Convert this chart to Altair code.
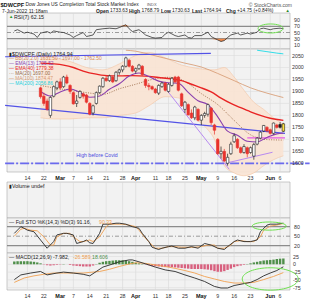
import altair as alt
import pandas as pd

W, H = 283, 300
PADL = 7
FONT = "Liberation Sans"
XDOM = [-4.7, 78.5]

# ---------------- data (x = trading-day index, 0 = 14 Feb 2022) ----------------
tick_idx = [0, 5, 10, 14, 19, 24, 29, 33, 39, 43, 48, 53, 58, 63, 68, 74, 77]
tick_lab = ["14", "22", "Mar", "7", "14", "21", "28", "Apr", "11", "18", "25", "May", "9", "16", "23", "Jun", "6"]
months = ["Mar", "Apr", "May", "Jun"]

candle_idx = list(range(4, 79))
c_open = [1915, 1880, 1860, 1800, 1880, 1915, 1940, 1920, 1960, 1925,
          1895, 1850, 1875, 1890, 1885, 1850, 1810, 1850, 1895, 1920,
          1955, 1945, 1960, 1945, 1980, 1990, 2005, 2030, 2005, 1985,
          1995, 2005, 1950, 1925, 1920, 1910, 1893, 1920, 1935, 1900,
          1925, 1960, 1960, 1890, 1825, 1845, 1810, 1790, 1825, 1780,
          1800, 1805, 1830, 1760, 1700, 1640, 1650, 1600, 1640, 1690,
          1700, 1665, 1645, 1665, 1645, 1630, 1680, 1705, 1735, 1750,
          1740, 1725, 1760, 1762, 1733.63]
c_high = [1920, 1895, 1870, 1880, 1925, 1945, 1955, 1965, 1970, 1930,
          1900, 1885, 1905, 1895, 1890, 1855, 1845, 1900, 1925, 1960,
          1965, 1970, 1965, 1985, 1995, 2010, 2045, 2035, 2010, 2000,
          2015, 2010, 1955, 1935, 1925, 1915, 1930, 1940, 1940, 1935,
          1960, 1965, 1965, 1895, 1860, 1850, 1825, 1840, 1830, 1805,
          1815, 1850, 1835, 1765, 1705, 1670, 1660, 1640, 1690, 1725,
          1705, 1670, 1680, 1670, 1670, 1685, 1710, 1735, 1760, 1755,
          1745, 1770, 1765, 1772, 1768.79]
c_low = [1870, 1840, 1820, 1790, 1875, 1905, 1905, 1915, 1930, 1890,
         1845, 1835, 1870, 1870, 1850, 1800, 1800, 1845, 1890, 1915,
         1940, 1940, 1935, 1940, 1970, 1980, 2000, 2000, 1980, 1975,
         1990, 1965, 1915, 1905, 1905, 1890, 1885, 1915, 1900, 1895,
         1920, 1935, 1900, 1835, 1810, 1800, 1785, 1780, 1775, 1760,
         1790, 1795, 1760, 1720, 1635, 1620, 1605, 1590, 1635, 1685,
         1660, 1640, 1640, 1625, 1640, 1615, 1675, 1700, 1730, 1730,
         1720, 1720, 1745, 1745, 1730.63]
c_close = [1878, 1850, 1825, 1875, 1920, 1940, 1915, 1960, 1935, 1900,
           1848, 1860, 1900, 1880, 1855, 1805, 1840, 1895, 1922, 1955,
           1945, 1965, 1940, 1980, 1990, 2005, 2040, 2005, 1985, 1995,
           2010, 1970, 1925, 1920, 1910, 1895, 1925, 1935, 1905, 1930,
           1955, 1940, 1905, 1840, 1855, 1802, 1790, 1835, 1780, 1800,
           1808, 1845, 1770, 1738, 1640, 1650, 1610, 1625, 1680, 1715,
           1665, 1645, 1670, 1640, 1665, 1678, 1705, 1730, 1758, 1735,
           1725, 1768, 1750, 1750.19, 1764.94]

ema13_idx = [4, 7, 10, 13, 16, 19, 22, 25, 28, 31, 34, 37, 40, 43, 46, 49, 52, 55, 58, 61, 64, 67, 70, 73, 76, 78]
ema13_val = [1900, 1881, 1898, 1910, 1896, 1876, 1881, 1909, 1932, 1964, 1977, 1962, 1943, 1936, 1934, 1896,
             1861, 1845, 1794, 1734, 1717, 1692, 1689, 1708, 1723, 1725.5]
ema40_idx = [4, 8, 11, 14, 17, 21, 25, 29, 32, 36, 40, 44, 47, 50, 53, 56, 59, 62, 65, 68, 71, 74, 78]
ema40_val = [2018, 2015, 2010, 2000, 1985, 1972, 1965, 1965, 1966, 1964, 1958, 1952, 1945, 1930, 1915, 1898,
             1872, 1850, 1832, 1815, 1800, 1788, 1779.4]
ma20_idx = [4, 8, 13, 18, 23, 28, 33, 38, 43, 48, 53, 58, 63, 68, 73, 78]
ma20_val = [1925, 1915, 1905, 1895, 1888, 1911, 1930, 1950, 1959, 1942, 1891, 1845, 1779, 1719, 1699, 1697]
ma100_idx = [30, 33, 38, 43, 48, 53, 58, 63, 68, 73, 78]
ma100_val = [2072, 2068, 2052, 2035, 2018, 2002, 1975, 1945, 1915, 1893, 1874.5]
ma200_idx = [70, 73, 76, 78]
ma200_val = [2072, 2066, 2060, 2056.9]
bb_idx = [4, 8, 13, 18, 23, 28, 33, 37, 42, 47, 51, 54, 57, 60, 63, 66, 69, 72, 75, 78]
bb_up = [2050, 2040, 2025, 2000, 1990, 2015, 2050, 2063, 2040, 2010, 1998, 1992, 1990, 2000, 1960, 1905,
         1855, 1825, 1790, 1762.5]
bb_lo = [1790, 1785, 1785, 1790, 1790, 1800, 1810, 1840, 1878, 1870, 1790, 1755, 1700, 1590, 1560, 1548,
         1560, 1590, 1615, 1631.5]

# drawn trend lines (start / end)
blue_top = ([-6.8, 55.9], [2045, 2059])
blue_bot = ([-6.8, 78.5], [1842, 1725])
covid_high = ([-6.8, 86.0], [1600, 1600])
lav_down = ([41.8, 61.5], [1917, 1575])
lav_up = ([60.3, 74.7], [1600, 1646])
pink_flat = ([67.0, 78.5], [1706, 1706])
price_ticks = [1600, 1650, 1700, 1750, 1800, 1850, 1900, 1950, 2000, 2050]

rsi_idx = [-4, -3, -1, 0, 2, 3, 4, 6, 7, 8, 10, 11, 13, 14, 15, 17, 18, 20, 21, 23, 25, 27, 28, 30, 31, 32,
           34, 35, 36, 38, 39, 41, 42, 43, 45, 46, 48, 49, 50, 51, 53, 55, 56, 58, 59, 60, 61, 62, 64, 65,
           67, 68, 70, 71, 72, 74, 75, 77, 78]
rsi_val = [55, 59, 48, 51, 45, 34, 48, 53, 48, 55, 51, 50, 42, 34, 40, 50, 37, 42, 59, 62, 64, 62, 66, 75, 62,
           53, 59, 51, 42, 34, 32, 34, 45, 51, 40, 37, 42, 34, 32, 40, 40, 51, 37, 26, 21, 24, 34, 42, 48, 42,
           48, 45, 51, 62, 64, 59, 62, 64, 62.15]
rsi_ticks = [90, 70, 50, 30, 10]

k_idx = [-4, -2, -1, 0, 2, 4, 6, 8, 9, 11, 12, 14, 15, 17, 18, 19, 20, 22, 23, 25, 27, 28, 30, 32, 34, 35,
         37, 38, 40, 41, 43, 44, 46, 48, 50, 52, 54, 56, 58, 60, 61, 63, 64, 66, 68, 70, 71, 73, 74, 76, 78]
k_val = [59, 80, 75, 69, 64, 38, 12, 33, 54, 59, 59, 54, 27, 33, 38, 29, 27, 59, 88, 88, 91, 91, 88, 80, 75, 59,
         33, 15, 8, 12, 17, 19, 12, 12, 17, 12, 27, 22, 12, 8, 17, 33, 38, 33, 33, 38, 64, 85, 88, 88, 91.16]
d_idx = [-4, -2, -1, 1, 3, 5, 7, 8, 9, 11, 13, 14, 16, 17, 19, 20, 22, 24, 25, 27, 29, 31, 33, 34, 36, 38,
         39, 41, 43, 45, 47, 49, 51, 53, 55, 57, 58, 60, 62, 63, 65, 67, 69, 71, 72, 74, 76, 78]
d_val = [50, 72, 75, 69, 67, 48, 22, 22, 48, 59, 59, 48, 33, 33, 38, 33, 48, 80, 88, 88, 88, 85, 80, 69, 43, 22,
         12, 12, 17, 17, 15, 15, 15, 17, 22, 22, 12, 12, 22, 33, 36, 33, 33, 48, 69, 82, 85, 90.33]
sto_ticks = [80, 50, 20]

macd_idx = [-4, -2, 1, 4, 6, 9, 11, 14, 17, 19, 21, 23, 26, 28, 31, 32, 34, 37, 39, 42, 45, 48, 51, 54, 57,
            59, 61, 63, 66, 68, 70, 72, 74, 76, 78]
macd_val = [-49, -34, -28, -23, -34, -28, -25, -28, -32, -37, -23, -9, 1, 8, 14, 14, 8, -2, -9, -18, -23, -34,
            -44, -55, -71, -76, -76, -68, -62, -58, -49, -37, -28, -20, -7.98]
sig_idx = [-4, -1, 2, 5, 8, 11, 14, 17, 19, 22, 25, 28, 31, 33, 36, 39, 42, 45, 48, 51, 54, 57, 60, 63, 66,
           69, 72, 75, 78]
sig_val = [-58, -44, -37, -32, -28, -28, -28, -28, -26, -23, -16, -7, 1, 5, 3, -2, -7, -13, -20, -28, -39, -47,
           -55, -60, -60, -58, -49, -39, -26.6]
hist_idx = list(range(-4, 79))
hist_val = [9, 10, 10, 10, 10, 9, 8, 6, 3, -1, -3, -4, -3, -2, -1, 1, 0, -2, -4, -5, -6, -7, -7, -7, -4, 1,
            5, 8, 10, 11, 12, 13, 13, 13, 12, 10, 8, 5, 3, 1, -1, -3, -5, -6, -7, -8, -9, -9, -9, -10, -11,
            -12, -13, -14, -15, -15, -15, -15, -16, -17, -19, -22, -24, -24, -22, -18, -14, -9, -6, -4, -2,
            1, 3, 6, 8, 10, 12, 13, 14, 15, 17, 18, 18.6]
macd_ticks = [25, 0, -25, -50, -75]
macd_tick_lab = ["25", "0", "-25", "-50", "-75"]

ellipse_rsi = (74.1, 63)
ellipse_sto = (73.7, 82)
ellipse_macd = (74.0, -47)

# ---------------- helpers ----------------
def xq(field="idx"):
    return alt.X(f"{field}:Q", scale=alt.Scale(domain=XDOM, nice=False, zero=False), axis=None)


def ys(field, dom, rng):
    return alt.Y(f"{field}:Q", scale=alt.Scale(domain=dom, range=rng, nice=False, zero=False), axis=None)


PX = ([1600, 2050], [163.3, 55.5])
RS = ([30, 70], [38.7, 26.3])
ST = ([20, 80], [245.7, 226.7])
MC = ([-75, 25], [287.7, 256.5])


def ln(idx, val):
    return pd.DataFrame({"idx": idx, "v": val})


def line(idx, val, sc, color, width=1.0, dash=None, interp="linear"):
    kw = dict(color=color, strokeWidth=width, interpolate=interp, clip=False)
    if dash:
        kw["strokeDash"] = dash
    return alt.Chart(ln(idx, val)).mark_line(**kw).encode(x=xq(), y=ys("v", *sc))


def label(s, x, y, size=5.3, color="#222222", weight="normal", align="left"):
    return alt.Chart(pd.DataFrame({"t": [s]})).mark_text(
        align=align, baseline="middle", fontSize=size, color=color, fontWeight=weight, font=FONT
    ).encode(text="t:N", x=alt.value(x - PADL), y=alt.value(y))


def panel(y0, y1):
    return alt.Chart(pd.DataFrame({"a": [0]})).mark_rect(
        fill="#f2f2f2", stroke="#aaaaaa", strokeWidth=0.6
    ).encode(x=alt.value(0), x2=alt.value(W), y=alt.value(y0), y2=alt.value(y1))


def vgrid(y0, y1):
    return alt.Chart(pd.DataFrame({"idx": tick_idx})).mark_rule(color="#d9d9d9", strokeWidth=0.6).encode(
        x=xq(), y=alt.value(y0), y2=alt.value(y1))


def hlevels(vals, sc, color, width, dash=None):
    kw = dict(color=color, strokeWidth=width)
    if dash:
        kw["strokeDash"] = dash
    return alt.Chart(pd.DataFrame({"v": vals})).mark_rule(**kw).encode(
        y=ys("v", *sc), x=alt.value(0), x2=alt.value(W))


def ticklabels(vals, labs, sc, x=293):
    return alt.Chart(pd.DataFrame({"v": vals, "t": labs})).mark_text(
        align="left", baseline="middle", fontSize=5.3, color="#333333", font=FONT
    ).encode(x=alt.value(x - PADL), y=ys("v", *sc), text="t:N")


def ellipse(pt, sc, width, ratio):
    path = f"M -1 0 A 1 {ratio} 0 1 1 1 0 A 1 {ratio} 0 1 1 -1 0 Z"
    return alt.Chart(pd.DataFrame({"idx": [pt[0]], "v": [pt[1]]})).mark_point(
        shape=path, size=width * width, filled=False, stroke="#6fe050", strokeWidth=1.0, opacity=1, clip=False
    ).encode(x=xq(), y=ys("v", *sc))


def xlabels(y):
    df = pd.DataFrame({"idx": tick_idx, "t": tick_lab})
    base = alt.Chart(df)
    normal = base.transform_filter(alt.FieldOneOfPredicate(field="t", oneOf=months)).mark_text(
        fontSize=5.5, fontWeight="bold", color="#111111", font=FONT, baseline="middle")
    other = base.transform_filter(~alt.FieldOneOfPredicate(field="t", oneOf=months)).mark_text(
        fontSize=5.3, color="#333333", font=FONT, baseline="middle")
    return alt.layer(
        normal.encode(x=xq(), y=alt.value(y), text="t:N"),
        other.encode(x=xq(), y=alt.value(y), text="t:N"),
    )


# ---------------- background ----------------
bg = alt.layer(
    panel(13, 49), panel(49, 172), panel(182, 218), panel(218, 253), panel(253, 290),
    vgrid(13, 49), vgrid(49, 172), vgrid(182, 218), vgrid(218, 253), vgrid(253, 290),
)

# ---------------- RSI panel ----------------
rsi_df = ln(rsi_idx, rsi_val)
rsi_low = alt.Chart(rsi_df).transform_calculate(lo="min(datum.v, 30)").mark_area(color="#f08a4b").encode(
    x=xq(), y=ys("lo", *RS), y2=alt.datum(30))
rsi_high = alt.Chart(rsi_df).transform_calculate(hi="max(datum.v, 70)").mark_area(color="#f08a4b").encode(
    x=xq(), y=ys("hi", *RS), y2=alt.datum(70))
rsi_panel = alt.layer(
    hlevels([70, 30], RS, "#8c8c8c", 1.3),
    hlevels([50], RS, "#777777", 0.7, [4, 2, 1, 2]),
    rsi_low, rsi_high,
    line(rsi_idx, rsi_val, RS, "#333333", 0.8),
    ticklabels(rsi_ticks, [str(t) for t in rsi_ticks], RS, 294),
    ellipse(ellipse_rsi, RS, 25, 0.36),
)

# ---------------- price panel ----------------
cdf = pd.DataFrame({"idx": candle_idx, "open": c_open, "high": c_high, "low": c_low, "close": c_close})
cbase = alt.Chart(cdf).transform_window(
    prev="lag(close)", sort=[alt.SortField("idx", order="ascending")]
).transform_calculate(
    col="(datum.prev != null ? datum.close < datum.prev : datum.close < datum.open) ? '#e8332e' : '#1f1f1f'"
).transform_calculate(
    body="datum.idx == 78 ? '#ffe23f' : (datum.close < datum.open ? datum.col : '#ffffff')"
)
wicks = cbase.mark_rule(strokeWidth=0.7).encode(
    x=xq(), y=ys("low", *PX), y2="high:Q", color=alt.Color("col:N", scale=None))
bodies = cbase.mark_bar(size=2.5, strokeWidth=0.6).encode(
    x=xq(), y=ys("open", *PX), y2="close:Q",
    fill=alt.Fill("body:N", scale=None), stroke=alt.Stroke("col:N", scale=None))

bbdf = pd.DataFrame({"idx": bb_idx, "up": bb_up, "lo": bb_lo})
bb_area = alt.Chart(bbdf).mark_area(color="#f9e3d3", opacity=0.9, interpolate="monotone").encode(
    x=xq(), y=ys("up", *PX), y2="lo:Q")
bb_upper = line(bb_idx, bb_up, PX, "#f3c4a2", 0.6, interp="monotone")
bb_lower = line(bb_idx, bb_lo, PX, "#f3c4a2", 0.6, interp="monotone")

price_panel = alt.layer(
    hlevels(price_ticks, PX, "#dcdcdc", 0.6),
    bb_area, bb_upper, bb_lower,
    line(*covid_high, PX, "#6a6aee", 1.8, [9, 2, 2, 2]),
    line(ma100_idx, ma100_val, PX, "#d9a07a", 0.9, interp="monotone"),
    line(ma200_idx, ma200_val, PX, "#33dde8", 1.0, interp="monotone"),
    line(ma20_idx, ma20_val, PX, "#9a6a48", 0.9, [1, 1.4], interp="monotone"),
    line(*blue_top, PX, "#5252e6", 1.1),
    line(*blue_bot, PX, "#5252e6", 1.1),
    line(*lav_down, PX, "#b88af0", 1.0),
    line(*lav_up, PX, "#b88af0", 1.0),
    line(*pink_flat, PX, "#e65ae6", 1.2),
    line(ema40_idx, ema40_val, PX, "#e82424", 1.4, interp="monotone"),
    line(ema13_idx, ema13_val, PX, "#8a3fae", 1.1, interp="monotone"),
    wicks, bodies,
    ticklabels(price_ticks, [str(t) for t in price_ticks], PX, 292),
)

# ---------------- STO panel ----------------
sto_panel = alt.layer(
    hlevels([80, 20], ST, "#8c8c8c", 1.3),
    hlevels([50], ST, "#777777", 0.7, [4, 2, 1, 2]),
    line(d_idx, d_val, ST, "#f0a050", 0.9),
    line(k_idx, k_val, ST, "#2a2a2a", 0.9),
    ticklabels(sto_ticks, [str(t) for t in sto_ticks], ST, 294),
    ellipse(ellipse_sto, ST, 34, 0.24),
)

# ---------------- MACD panel ----------------
hist = alt.Chart(ln(hist_idx, hist_val)).transform_calculate(
    col="datum.v >= 0 ? '#4f8f4a' : '#d8607e'"
).mark_bar(size=2.4).encode(x=xq(), y=ys("v", *MC), y2=alt.datum(0), color=alt.Color("col:N", scale=None))
macd_panel = alt.layer(
    hlevels(macd_ticks, MC, "#dcdcdc", 0.6),
    hist,
    line(sig_idx, sig_val, MC, "#f0a050", 0.9),
    line(macd_idx, macd_val, MC, "#2a2a2a", 0.9),
    ticklabels(macd_ticks, macd_tick_lab, MC, 293),
    ellipse(ellipse_macd, MC, 56, 0.4),
)

# ---------------- texts ----------------
texts = alt.layer(
    label("$DWCPF", 0.5, 4.8, 5.6, "#111111", "bold"),
    label("Dow Jones US Completion Total Stock Market Index", 25.5, 4.8, 4.9, "#222222"),
    label("INDX", 147, 4.8, 4.0, "#555555"),
    label("© StockCharts.com", 292, 4.8, 5.0, "#555555", align="right"),
    label("7-Jun-2022 11:18am", 2, 10.8, 5.0),
    label("Open", 96, 10.8, 5.0, weight="bold"), label("1733.63", 110, 10.8, 4.9),
    label("High", 129, 10.8, 5.0, weight="bold"), label("1768.79", 141.5, 10.8, 4.9),
    label("Low", 161, 10.8, 5.0, weight="bold"), label("1730.63", 172, 10.8, 4.9),
    label("Last", 192, 10.8, 5.0, weight="bold"), label("1764.94", 203.5, 10.8, 4.9),
    label("Chg", 226, 10.8, 5.0, weight="bold"), label("+14.75 (+0.84%)", 237, 10.8, 4.9),
    label("▲", 285.5, 10.8, 4.3, "#2a8a2a"),
    label("▲", 9, 16.5, 4.3, "#2a9a2a"), label("RSI(7) 62.15", 14, 16.5, 5.3),
    label("▮$DWCPF (Daily) 1764.94", 9, 53.8, 5.4, "#222222"),
    label("— BB(20,2.0) 1631.50 - 1697.00 - 1762.50", 9, 58.9, 4.9, "#d9864f"),
    label("— EMA(13) 1725.52", 9, 64.0, 4.9, "#8a3fae"),
    label("— EMA(40) 1779.38", 9, 69.1, 4.9, "#e82424"),
    label("··· MA(20) 1697.00", 9, 74.2, 4.9, "#9a6a48"),
    label("— MA(100) 1874.47", 9, 79.3, 4.9, "#d79a72"),
    label("— MA(200) 2056.86", 9, 84.4, 4.9, "#22cfdc"),
    label("High before Covid", 97, 155.3, 5.2, "#4a4ae0", align="center"),
    label("▮Volume undef", 9, 185.8, 5.3),
    label("— Full STO %K(14,3) %D(3) 91.16,", 9, 221.8, 5.2),
    label("90.33", 99, 221.8, 5.2, "#f0a050"),
    label("— MACD(12,26,9) -7.982,", 9, 256.8, 5.2),
    label("-26.589,", 73, 256.8, 5.2, "#f0a050"),
    label("18.606", 92, 256.8, 5.2, "#4f8f4a"),
    xlabels(178), xlabels(295.5),
)

chart = alt.layer(bg, rsi_panel, price_panel, sto_panel, macd_panel, texts).resolve_scale(
    y="independent"
).properties(
    width=W, height=H, autosize="none",
    padding={"left": PADL, "top": 0, "right": 22, "bottom": 0},
    background="white",
).configure_view(stroke=None)

chart.save("out.html", embed_options={"renderer": "svg", "actions": False})
